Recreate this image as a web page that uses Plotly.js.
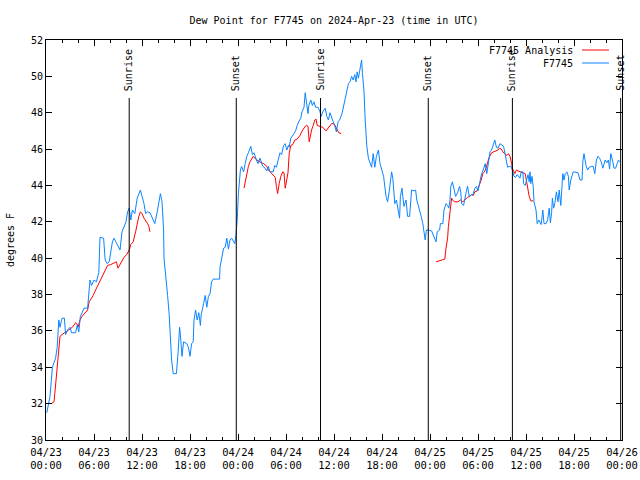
<!DOCTYPE html>
<html>
<head>
<meta charset="utf-8">
<script src="https://cdn.plot.ly/plotly-3.0.1.min.js"></script>
<style>html,body{margin:0;padding:0;background:#fff;}#chart{width:640px;height:480px;}</style>
</head>
<body>
<div id="chart"></div>
<script>
// ---- data (hours since 2024-04-23 00:00 UTC, dew point in degrees F) ----
const chartTitle = 'Dew Point for F7745 on 2024-Apr-23 (time in UTC)';
const yTitle = 'degrees F';
const startDate = '2024-04-23';
const endDate = '2024-04-26';

const obsName = 'F7745';
const obsHours = [0.1,0.5,0.8,1.2,1.4,1.5,1.6,1.75,2.0,2.3,2.45,2.7,3.0,3.2,3.7,3.9,4.1,4.3,4.75,5.2,5.4,5.5,5.7,6.0,6.3,6.6,6.75,7.2,7.4,7.65,7.9,8.1,8.3,8.5,8.9,9.25,9.5,10.0,10.2,10.4,10.6,10.8,11.1,11.4,11.8,12.0,12.25,12.45,12.7,13.0,13.3,13.6,13.9,14.3,14.5,14.7,14.75,15.0,15.2,15.4,15.6,15.7,15.9,16.3,16.5,16.7,16.8,17.0,17.2,17.6,17.8,18.0,18.2,18.4,18.5,18.7,18.9,19.1,19.3,19.4,19.7,19.9,20.1,20.3,20.5,20.7,20.9,21.7,21.75,21.95,22.2,22.4,22.6,22.8,23.0,23.2,23.4,23.6,23.75,23.9,24.05,24.2,24.3,24.45,24.7,24.9,25.1,25.3,25.6,25.8,26.0,26.3,26.5,26.75,27.1,27.4,27.6,27.8,28.0,28.4,28.6,28.8,29.0,29.25,29.45,29.7,29.9,30.1,30.3,30.4,30.6,30.8,31.0,31.2,31.4,31.7,31.85,32.0,32.25,32.4,32.55,32.75,32.85,33.1,33.3,33.5,33.7,34.0,34.25,34.4,34.6,34.9,35.1,35.3,35.5,35.7,35.9,36.1,36.3,36.5,36.7,37.0,37.2,37.4,37.6,37.8,38.0,38.2,38.4,38.6,38.75,38.9,39.05,39.25,39.45,39.55,39.75,39.9,40.1,40.3,40.5,40.7,40.9,41.1,41.3,41.55,41.75,41.95,42.2,42.5,42.7,42.9,43.1,43.2,43.35,43.5,43.6,43.8,44.0,44.2,44.3,44.5,44.6,44.75,45.0,45.2,45.45,45.6,45.7,46.0,46.2,46.35,46.5,46.75,46.9,47.1,47.25,47.4,47.55,47.8,48.2,48.4,48.75,48.9,49.2,49.3,49.6,49.75,50.0,50.2,50.35,50.5,50.6,50.8,51.0,51.2,51.45,51.7,51.85,51.95,52.2,52.4,52.55,52.7,52.9,53.2,53.4,53.6,53.8,54.0,54.25,54.45,54.65,54.9,55.1,55.3,55.5,55.7,55.9,56.1,56.3,56.5,56.75,57.0,57.2,57.4,57.6,57.7,57.9,58.1,58.3,58.5,58.7,58.9,59.25,59.4,59.6,59.7,59.9,60.1,60.25,60.4,60.5,60.6,60.75,60.9,61.0,61.25,61.4,61.6,61.75,61.9,62.1,62.25,62.5,62.7,62.9,63.05,63.2,63.3,63.45,63.6,63.8,64.0,64.15,64.35,64.6,64.75,64.9,65.1,65.3,65.4,65.6,65.75,65.9,66.5,66.75,67.0,67.1,67.25,67.5,67.7,67.9,68.2,68.4,68.6,68.8,69.0,69.2,69.4,69.6,69.9,70.1,70.3,70.45,70.6,70.7,70.85,71.0,71.2,71.4,71.55,71.7];
const obsValues = [31.5,32.4,34.0,34.5,35.1,36.05,36.6,36.2,36.7,36.7,35.8,36.05,36.2,35.9,35.9,36.3,35.95,36.8,37.25,37.25,38.25,38.8,38.5,38.8,38.7,39.2,41.15,41.1,39.9,39.7,39.8,40.45,40.9,41.1,40.7,40.45,41.45,42.0,42.55,42.75,42.1,42.65,42.45,43.3,43.75,43.4,43.0,42.45,42.55,42.5,42.2,41.9,42.55,43.55,43.1,41.55,40.0,39.0,37.95,36.9,35.3,34.4,33.65,33.65,34.75,36.2,35.8,34.6,35.4,35.3,35.1,34.6,35.3,35.4,36.6,37.15,36.6,37.0,36.3,36.9,37.5,37.95,37.3,37.9,38.05,38.7,38.85,38.85,39.5,40.0,40.55,40.6,41.1,40.5,41.0,41.1,40.95,40.8,41.3,42.1,43.55,44.5,44.85,45.05,44.75,45.2,45.6,45.8,46.15,45.7,45.8,45.4,45.2,45.5,45.05,44.95,44.8,45.05,44.75,44.75,45.1,45.0,45.4,45.8,45.7,46.2,46.3,45.95,46.2,46.1,46.6,46.7,46.85,47.0,47.3,47.6,47.7,48.05,48.3,49.1,48.7,47.95,48.4,48.7,48.4,48.6,48.3,48.3,48.05,47.8,48.05,48.25,47.8,47.6,48.0,47.8,47.5,47.25,46.95,47.5,47.6,47.95,48.4,48.7,49.25,49.6,49.7,50.0,49.8,50.1,49.7,50.25,49.9,50.45,50.9,50.2,49.15,47.6,46.15,45.5,45.2,45.0,45.75,45.0,45.6,45.95,45.2,44.85,44.5,43.4,43.1,43.65,44.3,44.75,44.4,43.75,43.0,43.2,42.65,42.2,43.4,43.85,43.4,42.85,43.2,42.3,42.3,43.1,43.75,43.7,43.75,43.2,42.95,42.65,42.3,41.9,41.55,41.0,41.55,41.55,41.5,41.3,40.9,41.45,41.55,41.9,41.9,42.65,43.0,42.9,42.75,43.2,43.95,44.2,43.85,43.4,43.6,43.95,43.6,43.0,42.9,43.5,43.7,43.95,43.4,43.5,43.5,43.85,43.95,43.7,44.3,44.65,44.85,45.2,44.65,45.4,45.85,45.95,46.3,46.5,46.1,46.05,46.3,46.2,46.15,45.7,45.2,45.0,45.05,45.05,44.85,44.5,44.45,44.6,44.4,44.75,44.75,44.1,44.0,44.4,44.6,44.2,44.75,44.1,44.5,43.95,43.1,42.65,41.9,42.1,42.0,41.85,42.65,41.9,41.9,42.1,42.75,41.95,42.5,43.3,42.75,43.0,43.65,43.1,43.75,42.9,44.65,44.3,44.65,44.75,44.5,43.75,44.3,44.6,44.75,44.7,44.3,44.3,45.3,45.75,45.1,44.85,45.0,45.05,45.05,44.65,45.4,45.6,45.5,45.3,44.95,45.4,45.25,45.4,44.9,45.75,45.6,45.3,44.95,44.95,45.2,45.4,45.3];

const anaName = 'F7745 Analysis';
const anaHours = [0.67,1.0,1.1,1.3,1.4,1.6,1.75,2.0,2.5,2.9,3.3,3.7,3.85,4.0,4.25,4.5,4.95,5.2,5.4,5.7,5.9,6.2,6.6,7.0,7.25,7.7,8.1,8.5,8.8,9.0,9.25,9.55,9.75,10.1,10.4,10.6,10.9,11.2,11.4,11.6,11.8,12.0,12.25,12.5,12.7,12.85,13.0,
  null,
  24.75,25.0,25.3,25.5,25.7,25.9,26.2,26.5,26.9,27.2,27.4,27.6,27.8,28.0,28.2,28.4,28.65,28.8,28.95,29.15,29.35,29.6,29.75,29.9,30.1,30.25,30.4,30.6,30.85,31.1,31.4,31.75,31.95,32.2,32.4,32.6,32.75,32.9,33.05,33.2,33.4,33.6,33.75,33.9,34.25,34.6,35.0,35.3,35.7,36.0,36.25,36.45,36.6,36.9,
  null,
  48.75,49.25,49.7,49.85,50.0,50.2,50.3,50.5,50.7,50.8,51.1,51.5,51.8,52.1,52.4,52.7,53.0,53.2,53.4,53.6,53.9,54.2,54.4,54.6,54.8,55.0,55.2,55.4,55.7,56.0,56.3,56.5,56.7,56.9,57.1,57.4,57.6,57.8,58.0,58.2,58.3,58.6,58.8,59.0,59.3,59.6,59.9,60.0,60.2,60.3,60.4,60.6,60.9];
const anaValues = [32.0,32.1,32.55,33.65,34.2,35.2,35.7,35.8,35.95,36.05,36.2,36.45,36.4,36.2,36.6,36.8,37.05,37.15,37.6,37.8,37.95,38.25,38.6,39.0,39.25,39.6,39.65,39.75,39.8,39.45,39.65,39.9,40.05,40.2,40.45,40.75,40.9,41.45,41.9,42.3,42.55,42.45,42.2,42.05,41.9,41.75,41.45,
  null,
  43.85,44.5,45.05,45.3,45.5,45.6,45.45,45.35,45.25,45.2,45.1,45.05,44.85,44.75,44.65,44.55,44.45,43.95,43.55,44.1,44.5,44.75,44.7,43.85,44.5,44.7,45.75,46.2,46.25,46.5,46.55,46.75,46.95,47.15,47.25,47.3,47.25,46.4,46.75,47.05,47.3,47.6,47.65,47.3,47.25,47.2,47.0,47.2,47.4,47.4,47.2,47.0,46.9,46.85,
  null,
  39.8,39.85,39.9,39.95,40.55,41.1,41.75,42.55,43.3,43.2,43.1,43.1,43.2,43.1,43.25,43.35,43.4,43.5,43.45,43.65,43.7,44.0,44.3,44.65,44.75,44.95,45.2,45.55,45.8,45.85,45.9,45.95,46.05,46.0,45.85,45.75,45.65,45.75,45.6,45.2,44.95,44.65,44.85,44.8,44.75,44.7,44.65,44.4,44.0,43.65,43.4,43.15,43.15];

const sunTimes = ['2024-04-23 10:24','2024-04-23 23:47','2024-04-24 10:19','2024-04-24 23:47','2024-04-25 10:18','2024-04-25 23:50'];
const sunLabels = ['Sunrise','Sunset','Sunrise','Sunset','Sunrise','Sunset'];

// ---- build ----
const t0 = Date.parse(startDate + 'T00:00:00Z');
function toTime(h) {
  if (h === null) return null;
  return new Date(t0 + h * 3600000).toISOString().replace('T', ' ').slice(0, 19);
}
const FONT = 'DejaVu Sans Mono, Liberation Mono, monospace';
const BLUE = '#0a84ff';
const RED = '#ff0000';

const traces = [
  {x: anaHours.map(toTime), y: anaValues, name: anaName, type: 'scatter', mode: 'lines',
   line: {color: RED, width: 1}, connectgaps: false, showlegend: false},
  {x: obsHours.map(toTime), y: obsValues, name: obsName, type: 'scatter', mode: 'lines',
   line: {color: BLUE, width: 1}, showlegend: false}
];

const shapes = sunTimes.map(t => ({type: 'line', xref: 'x', yref: 'paper', x0: t, x1: t, y0: 0, y1: 0.855,
  line: {color: 'black', width: 1}}));
const annotations = sunTimes.map((t, i) => ({xref: 'x', yref: 'paper', x: t, y: 0.8675, text: sunLabels[i],
  textangle: -90, showarrow: false, xanchor: 'center', yanchor: 'bottom', font: {family: FONT, size: 10, color: 'black'}}));

// custom legend: text right-aligned, line sample to the right
const legendItems = [{name: anaName, color: RED}, {name: obsName, color: BLUE}];
legendItems.forEach((it, i) => {
  const yy = 0.975 - i * 0.0325;
  annotations.push({xref: 'paper', yref: 'paper', x: 0.918, y: yy, text: it.name, showarrow: false,
    xanchor: 'right', yanchor: 'middle', font: {family: FONT, size: 10, color: 'black'}});
  shapes.push({type: 'line', xref: 'paper', yref: 'paper', x0: 0.9306, x1: 0.9774, y0: yy, y1: yy,
    line: {color: it.color, width: 1}});
});

const layout = {
  width: 640, height: 480,
  margin: {l: 46, r: 18, t: 40, b: 40, pad: 0},
  paper_bgcolor: 'white', plot_bgcolor: 'white',
  font: {family: FONT, size: 10, color: 'black'},
  title: {text: chartTitle, font: {family: FONT, size: 10, color: 'black'},
          xref: 'paper', x: 0.5, xanchor: 'center', yref: 'container', y: 0.958, yanchor: 'middle'},
  showlegend: false,
  xaxis: {
    type: 'date', range: [startDate + ' 00:00', endDate + ' 00:00'],
    tick0: startDate + ' 00:00', dtick: 6 * 3600000, tickformat: '%m/%d<br>%H:%M',
    ticks: 'inside', ticklen: 6, tickcolor: 'black', tickwidth: 1, ticklabelstandoff: 2,
    showline: true, linecolor: 'black', linewidth: 1, mirror: 'ticks',
    showgrid: false, zeroline: false, tickfont: {family: FONT, size: 10.5, color: 'black'},
    minor: {dtick: 2 * 3600000, tick0: startDate + ' 00:00', ticks: 'inside', ticklen: 3, tickcolor: 'black', showgrid: false}
  },
  yaxis: {
    range: [30, 52], tick0: 30, dtick: 2,
    ticks: 'inside', ticklen: 6, tickcolor: 'black', tickwidth: 1,
    showline: true, linecolor: 'black', linewidth: 1, mirror: 'ticks',
    showgrid: false, zeroline: false, tickfont: {family: FONT, size: 10, color: 'black'},
    title: {text: yTitle, font: {family: FONT, size: 10, color: 'black'}, standoff: 14}
  },
  shapes: shapes,
  annotations: annotations
};

Plotly.newPlot('chart', traces, layout, {staticPlot: true, displayModeBar: false});
</script>
</body>
</html>
